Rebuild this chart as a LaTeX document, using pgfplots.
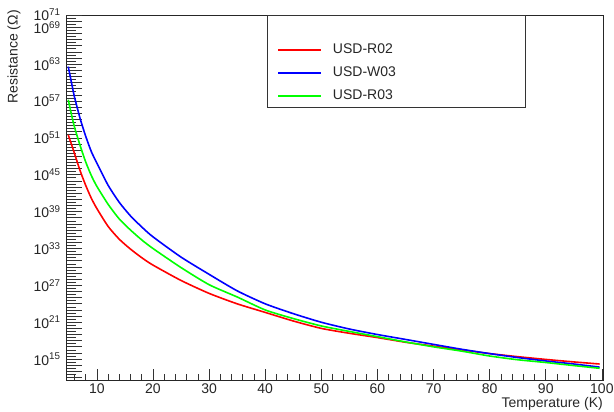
\documentclass[border=0pt]{standalone}
\usepackage{fontspec}
\setmainfont{Liberation Sans}
\usepackage{pgfplots}
\pgfplotsset{compat=1.18}
\definecolor{rootred}{RGB}{255,0,0}
\definecolor{rootblue}{RGB}{0,0,255}
\definecolor{rootgreen}{RGB}{0,255,0}
\def\mymajor{1e12}%
\foreach \n in {13,...,71}{\xdef\mymajor{\mymajor,1e\n}}%
\def\myminor{3.16e11}%
\foreach \n in {12,...,70}{\xdef\myminor{\myminor,3.16e\n}}%
\begin{document}%
\begin{tikzpicture}
\useasboundingbox (0,0) rectangle (614bp,412bp);
\begin{pgfinterruptboundingbox}
\begin{axis}[
  at={(66bp,32bp)}, anchor=south west,
  scale only axis, width=537bp, height=365bp,
  xmin=4.5, xmax=100.2,
  ymode=log, ymin=4e11, ymax=1e71,
  axis line style={black!85, line width=0.8bp},
  tick align=inside, xtick pos=bottom, ytick pos=left,
  tick style={black!80, line width=0.7bp},
  major tick length=16bp, minor tick length=10bp,
  xtick={10,20,...,100},
  minor xtick={6,8,...,98},
  xtick style={/pgfplots/major tick length=11bp, /pgfplots/minor tick length=6bp},
  ytick/.expanded=\mymajor,
  minor ytick/.expanded=\myminor,
  yticklabel={\mbox{}},
  extra y ticks={1e15,1e21,1e27,1e33,1e39,1e45,1e51,1e57,1e63,1e69,1e71},
  extra y tick labels={10\textsuperscript{15},10\textsuperscript{21},10\textsuperscript{27},10\textsuperscript{33},10\textsuperscript{39},10\textsuperscript{45},10\textsuperscript{51},10\textsuperscript{57},10\textsuperscript{63},10\textsuperscript{69},10\textsuperscript{71}},
  /pgf/number format/assume math mode=true,
  ticklabel style={font=\fontsize{14bp}{16bp}\selectfont, text=black!85},
  yticklabel style={xshift=-2bp},
  xlabel={Temperature (K)},
  xlabel style={at={(rel axis cs:1,0)}, anchor=north east, yshift=-17bp, inner sep=0pt, font=\fontsize{14bp}{16bp}\selectfont, text=black!85},
  ylabel={Resistance (Ω)},
  ylabel style={at={(axis description cs:-0.0968,1.0137)}, anchor=east, inner sep=0pt, font=\fontsize{14bp}{16bp}\selectfont, text=black!85},
  legend style={at={(rel axis cs:0.3743,1)}, anchor=north west, draw=black!80, line width=0.7bp, fill=white,
    inner xsep=10bp, inner ysep=0bp, row sep=0bp, column sep=11bp,
    font=\fontsize{14bp}{16bp}\selectfont,
    nodes={inner xsep=0bp, inner ysep=0bp, minimum height=23bp, text width=182bp, align=left, text=black!85}},
  legend cell align=left,
  legend image code/.code={\draw[#1] (0bp,0bp) -- (43bp,0bp);},
]
\addlegendimage{empty legend}
\addlegendentry{\mbox{}}
\addplot[rootred, line width=1.6bp, smooth, tension=0.4] coordinates {
(4.9,3.2e51) (5,1.6e51) (5.5,7.9e49) (6,3.2e48) (7,5.0e45) (8,2.0e43) (9,1.6e41) (10,3.2e39)
(12,4.0e36) (14,3.2e34) (16,7.9e32) (18,3.2e31) (20,2.0e30) (25,6.3e27) (30,5.0e25) (35,1.0e24)
(40,4.0e22) (45,1.6e21) (50,1.0e20) (55,1.6e19) (60,3.2e18) (65,5.6e17) (70,1.3e17) (75,3.2e16)
(80,7.9e15) (85,2.5e15) (90,8.9e14) (95,3.5e14) (99.6,1.6e14)
};
\addlegendentry{USD-R02}
\addplot[rootblue, line width=1.6bp, smooth, tension=0.4] coordinates {
(4.9,4.0e62) (5,1.4e62) (5.5,7.9e59) (6,5.0e57) (7,1.6e54) (8,2.0e51) (9,6.3e48) (10,7.9e46)
(12,2.0e43) (14,3.2e40) (16,2.0e38) (18,3.2e36) (20,7.9e34) (25,4.0e31) (30,6.3e28) (35,1.3e26)
(40,1.0e24) (45,2.5e22) (50,1.0e21) (55,7.9e19) (60,1.0e19) (65,1.6e18) (70,2.5e17) (75,4.0e16)
(80,7.9e15) (85,1.8e15) (90,5.0e14) (95,1.6e14) (99.6,5.0e13)
};
\addlegendentry{USD-W03}
\addplot[rootgreen, line width=1.6bp, smooth, tension=0.4] coordinates {
(4.9,1.6e57) (5,6.3e56) (5.5,5.0e54) (6,6.3e52) (7,6.3e49) (8,1.3e47) (9,7.9e44) (10,1.3e43)
(12,1.6e40) (14,6.3e37) (16,1.0e36) (18,2.5e34) (20,1.0e33) (25,7.9e29) (30,1.3e27) (35,1.3e25)
(40,1.0e23) (45,4.0e21) (50,2.5e20) (55,3.2e19) (60,4.5e18) (65,6.3e17) (70,1.0e17) (75,2.0e16)
(80,3.2e15) (85,7.9e14) (90,2.8e14) (95,8.9e13) (99.6,3.2e13)
};
\addlegendentry{USD-R03}
\end{axis}
\end{pgfinterruptboundingbox}
\end{tikzpicture}%
\end{document}
